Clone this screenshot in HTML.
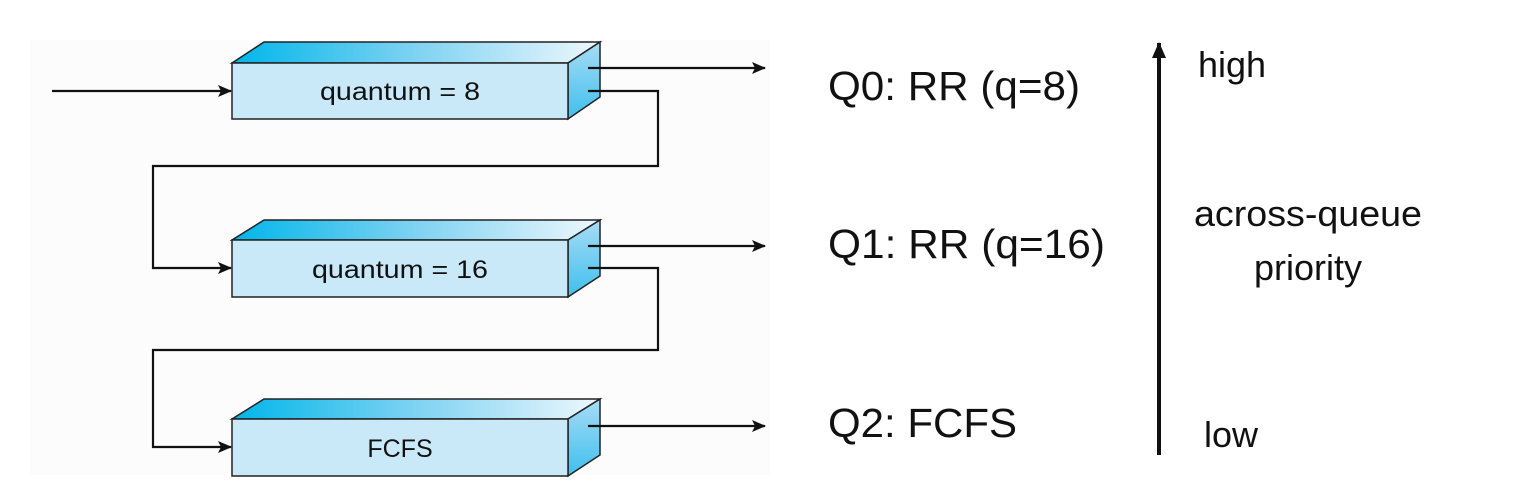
<!DOCTYPE html>
<html><head><meta charset="utf-8"><style>
html,body{margin:0;padding:0;background:#fff;}
svg{display:block;}
text{font-family:"Liberation Sans",sans-serif;fill:#111;}
</style></head><body>
<svg width="1519" height="503" viewBox="0 0 1519 503" xmlns="http://www.w3.org/2000/svg">
<defs>
<linearGradient id="top" x1="0" y1="0" x2="1" y2="0">
<stop offset="0" stop-color="#00b6ea"/><stop offset="0.5" stop-color="#7fd2f2"/><stop offset="1" stop-color="#eef8fd"/>
</linearGradient>
<linearGradient id="side" x1="0" y1="0" x2="0" y2="1">
<stop offset="0" stop-color="#a8dcf4"/><stop offset="1" stop-color="#3ec0ee"/>
</linearGradient>
<marker id="ah" markerWidth="14" markerHeight="12" refX="13" refY="6" orient="auto" markerUnits="userSpaceOnUse">
<path d="M0,0 L14,6 L0,12 L3,6 Z" fill="#111"/>
</marker>
<marker id="ahv" markerWidth="16" markerHeight="14" refX="15" refY="7" orient="auto" markerUnits="userSpaceOnUse">
<path d="M0,0 L16,7 L0,14 Z" fill="#111"/>
</marker>
</defs>
<rect x="30" y="40" width="740" height="435" fill="#fcfcfc"/>
<g stroke="#222" stroke-width="1.5">
<polygon points="232,63 264,42 600,42 568,63" fill="url(#top)"/>
<polygon points="568,63 600,42 600,97 568,119" fill="url(#side)"/>
<rect x="232" y="63" width="336" height="56" fill="#c9e9f9"/>
<polygon points="232,240 264,220 600,220 568,240" fill="url(#top)"/>
<polygon points="568,240 600,220 600,276 568,297" fill="url(#side)"/>
<rect x="232" y="240" width="336" height="57" fill="#c9e9f9"/>
<polygon points="232,419 264,399 600,399 568,419" fill="url(#top)"/>
<polygon points="568,419 600,399 600,455 568,476" fill="url(#side)"/>
<rect x="232" y="419" width="336" height="57" fill="#c9e9f9"/>
</g>
<g stroke="#111" stroke-width="2.2" fill="none">
<line x1="52" y1="91" x2="231" y2="91" marker-end="url(#ah)"/>
<line x1="588" y1="68" x2="765" y2="68" marker-end="url(#ah)"/>
<polyline points="588,91 658,91 658,166 153,166 153,268 231,268" marker-end="url(#ah)"/>
<line x1="588" y1="246" x2="765" y2="246" marker-end="url(#ah)"/>
<polyline points="588,268 658,268 658,350 153,350 153,447 231,447" marker-end="url(#ah)"/>
<line x1="588" y1="426" x2="765" y2="426" marker-end="url(#ah)"/>
<line x1="1159" y1="455" x2="1159" y2="43" stroke-width="4" marker-end="url(#ahv)"/>
</g>
<text x="400" y="100" font-size="25" text-anchor="middle" textLength="160" lengthAdjust="spacingAndGlyphs">quantum = 8</text>
<text x="400" y="278" font-size="25" text-anchor="middle" textLength="176" lengthAdjust="spacingAndGlyphs">quantum = 16</text>
<text x="400" y="457" font-size="25" text-anchor="middle">FCFS</text>
<text x="828" y="100" font-size="41" textLength="252" lengthAdjust="spacingAndGlyphs">Q0: RR (q=8)</text>
<text x="828" y="258" font-size="41" textLength="277" lengthAdjust="spacingAndGlyphs">Q1: RR (q=16)</text>
<text x="828" y="437" font-size="41" textLength="189" lengthAdjust="spacingAndGlyphs">Q2: FCFS</text>
<text x="1198" y="77" font-size="36">high</text>
<text x="1308" y="226" font-size="36" text-anchor="middle" textLength="228" lengthAdjust="spacingAndGlyphs">across-queue</text>
<text x="1308" y="280" font-size="36" text-anchor="middle">priority</text>
<text x="1204" y="447" font-size="36">low</text>
</svg>
</body></html>
